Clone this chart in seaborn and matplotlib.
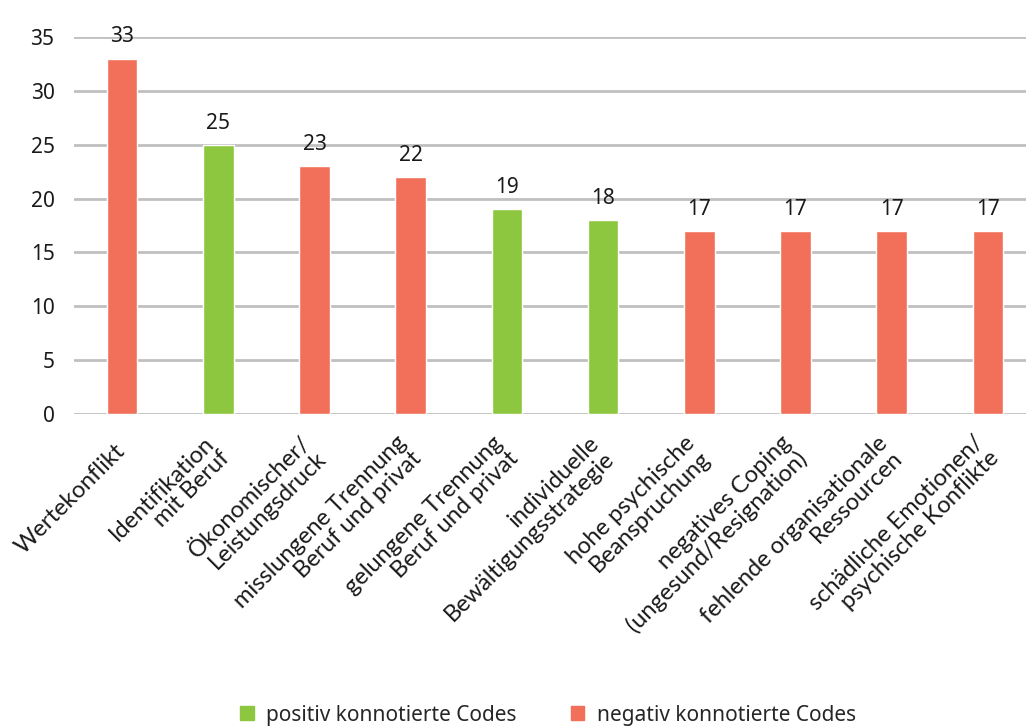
import matplotlib
matplotlib.use("Agg")
import matplotlib.pyplot as plt
import seaborn as sns
import pandas as pd

# Category labels (two-line labels use explicit line breaks)
categories = [
    "Wertekonflikt",
    "Identifikation\nmit Beruf",
    "Ökonomischer/\nLeistungsdruck",
    "misslungene Trennung\nBeruf und privat",
    "gelungene Trennung\nBeruf und privat",
    "individuelle\nBewältigungsstrategie",
    "hohe psychische\nBeanspruchung",
    "negatives Coping\n(ungesund/Resignation)",
    "fehlende organisationale\nRessourcen",
    "schädliche Emotionen/\npsychische Konflikte",
]
counts = [33, 25, 23, 22, 19, 18, 17, 17, 17, 17]
POS = "positiv konnotierte Codes"
NEG = "negativ konnotierte Codes"
connotation = [NEG, POS, NEG, NEG, POS, POS, NEG, NEG, NEG, NEG]
y_ticks = [0, 5, 10, 15, 20, 25, 30, 35]

GREEN = "#8DC63F"
RED = "#F2705A"
GRID = "#C0C0C0"

df = pd.DataFrame({"code": categories, "n": counts, "art": connotation})

sns.set_theme(style="white")
plt.rcParams["font.family"] = ["Noto Sans", "DejaVu Sans"]

W, H = 1026, 727
fig = plt.figure(figsize=(W / 100, H / 100), dpi=100)
left, right = 74, 1036
top, bottom = 37, 414
ax = fig.add_axes([left / W, 1 - bottom / H, (right - left) / W, (bottom - top) / H])

sns.barplot(
    data=df, x="code", y="n", hue="art",
    hue_order=[POS, NEG], palette={POS: GREEN, NEG: RED},
    width=0.32, dodge=False, saturation=1, ax=ax, legend=False,
)

ax.set_xlim(-0.5, len(categories) - 0.5)
ax.set_ylim(0, 35)
ax.set_yticks(y_ticks)
ax.set_yticklabels([str(v) for v in y_ticks], fontsize=15, color="#1a1a1a")
ax.set_xlabel("")
ax.set_ylabel("")
ax.grid(axis="y", color=GRID, linewidth=2, zorder=0)
ax.set_axisbelow(True)
for s in ax.spines.values():
    s.set_visible(False)
ax.tick_params(axis="both", length=0)
ax.tick_params(axis="y", pad=14)

# Rotated category labels
ax.set_xticks(range(len(categories)))
ax.set_xticklabels(
    categories, rotation=45, ha="right", va="center",
    rotation_mode="anchor", multialignment="right",
    fontsize=17, linespacing=1.05, family=["Lato", "DejaVu Sans"],
    color="#1a1a1a",
)
ax.tick_params(axis="x", pad=24)

# Value labels above the bars
for i, v in enumerate(counts):
    ax.annotate(str(v), (i, v), xytext=(0, 8), textcoords="offset points",
                ha="center", va="bottom", fontsize=15, color="#1a1a1a",
                annotation_clip=False)

# Legend
handles = [plt.Rectangle((0, 0), 1, 1, color=GREEN),
           plt.Rectangle((0, 0), 1, 1, color=RED)]
fig.legend(handles, [POS, NEG], loc="center", ncol=2,
           bbox_to_anchor=(548 / W, 1 - 715 / H), frameon=False,
           fontsize=15, handlelength=0.65, handleheight=0.65,
           handletextpad=0.6, columnspacing=2.6)

fig.savefig("out.png", dpi=100)
